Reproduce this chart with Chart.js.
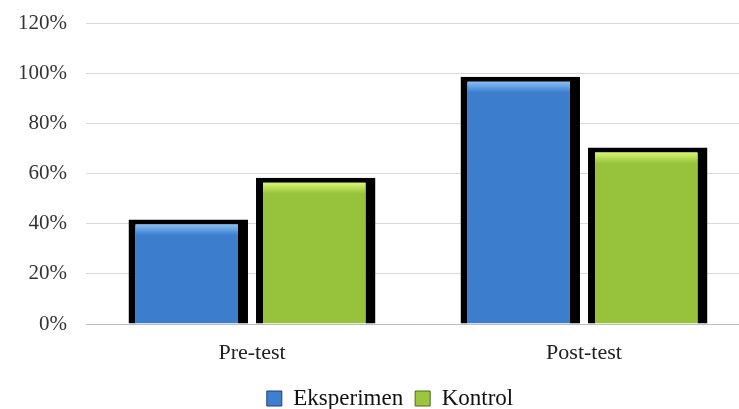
<!DOCTYPE html>
<html>
<head>
<meta charset="utf-8">
<script src="https://cdn.jsdelivr.net/npm/chart.js@4/dist/chart.umd.min.js"></script>
<style>
  html, body { margin: 0; padding: 0; background: #fff; overflow: hidden; }
  #wrap { width: 750px; height: 420px; }
</style>
</head>
<body>
<div id="wrap"><canvas id="chart"></canvas></div>
<script>
// Categories and series values (percent)
const categories = ["Pre-test", "Post-test"];
const eksperimen = [41.7, 98.6];
const kontrol = [58.3, 70.4];

// y-axis ticks
const yMax = 120;
const yStep = 20;

const serif = "'Liberation Serif', 'Times New Roman', serif";

// Bar fill: light band on top fading into the base colour
const barFill = (light, base) => (ctx) => {
  const chart = ctx.chart;
  const yScale = chart.scales.y;
  if (!chart.chartArea || !yScale || ctx.parsed === undefined) return base;
  const top = yScale.getPixelForValue(ctx.parsed.y);
  const g = chart.ctx.createLinearGradient(0, top, 0, top + 16);
  g.addColorStop(0, light);
  g.addColorStop(0.35, light);
  g.addColorStop(1, base);
  return g;
};

// move the legend a little to the right, like the original
const shiftLegend = {
  id: "shiftLegend",
  afterLayout(chart) {
    if (chart.legend) {
      chart.legend.left += 15;
      chart.legend.right += 15;
    }
  },
};

const ctx = document.getElementById("chart");

new Chart(ctx, {
  type: "bar",
  data: {
    labels: categories,
    datasets: [
      {
        label: "Eksperimen",
        data: eksperimen,
        backgroundColor: barFill("#80bcf4", "#3c7dce"),
        legendColor: "#3f7fd0",
        legendBorder: "#1f3f70",
        borderColor: "#000",
        borderWidth: { left: 7, top: 5, right: 10, bottom: 0 },
        borderSkipped: "start",
      },
      {
        label: "Kontrol",
        data: kontrol,
        backgroundColor: barFill("#d4f56c", "#97c23c"),
        legendColor: "#9cc640",
        legendBorder: "#4a6a18",
        borderColor: "#000",
        borderWidth: { left: 7, top: 5, right: 10, bottom: 0 },
        borderSkipped: "start",
      },
    ],
  },
  plugins: [shiftLegend],
  options: {
    responsive: true,
    maintainAspectRatio: false,
    animation: false,
    datasets: {
      bar: {
        categoryPercentage: 0.768,
        barPercentage: 0.937,
      },
    },
    layout: {
      padding: { left: 0, right: 0, top: 23, bottom: 0 },
    },
    plugins: {
      tooltip: { enabled: false },
      legend: {
        position: "bottom",
        labels: {
          font: { family: serif, size: 23 },
          color: "#111",
          boxWidth: 15,
          boxHeight: 15,
          padding: 12,
          generateLabels: (chart) =>
            chart.data.datasets.map((ds, i) => ({
              text: ds.label,
              fillStyle: ds.legendColor,
              strokeStyle: ds.legendBorder,
              lineWidth: 1,
              datasetIndex: i,
              fontColor: "#111",
            })),
        },
      },
    },
    scales: {
      x: {
        afterFit: (scale) => {
          scale.height = 51;
        },
        grid: { display: false, drawTicks: false },
        border: { display: true, color: "#bdbdbd", width: 1 },
        ticks: {
          font: { family: serif, size: 22 },
          color: "#222",
          padding: 16,
        },
      },
      y: {
        min: 0,
        max: yMax,
        afterFit: (scale) => {
          scale.width = 86;
        },
        grid: {
          color: "#d9d9d9",
          lineWidth: 1,
          drawTicks: true,
          tickLength: 17,
          tickColor: "rgba(0,0,0,0)",
        },
        border: { display: false },
        ticks: {
          stepSize: yStep,
          font: { family: serif, size: 21 },
          color: "#333",
          padding: 2,
          callback: (v) => v + "%",
        },
      },
    },
  },
});
</script>
</body>
</html>
